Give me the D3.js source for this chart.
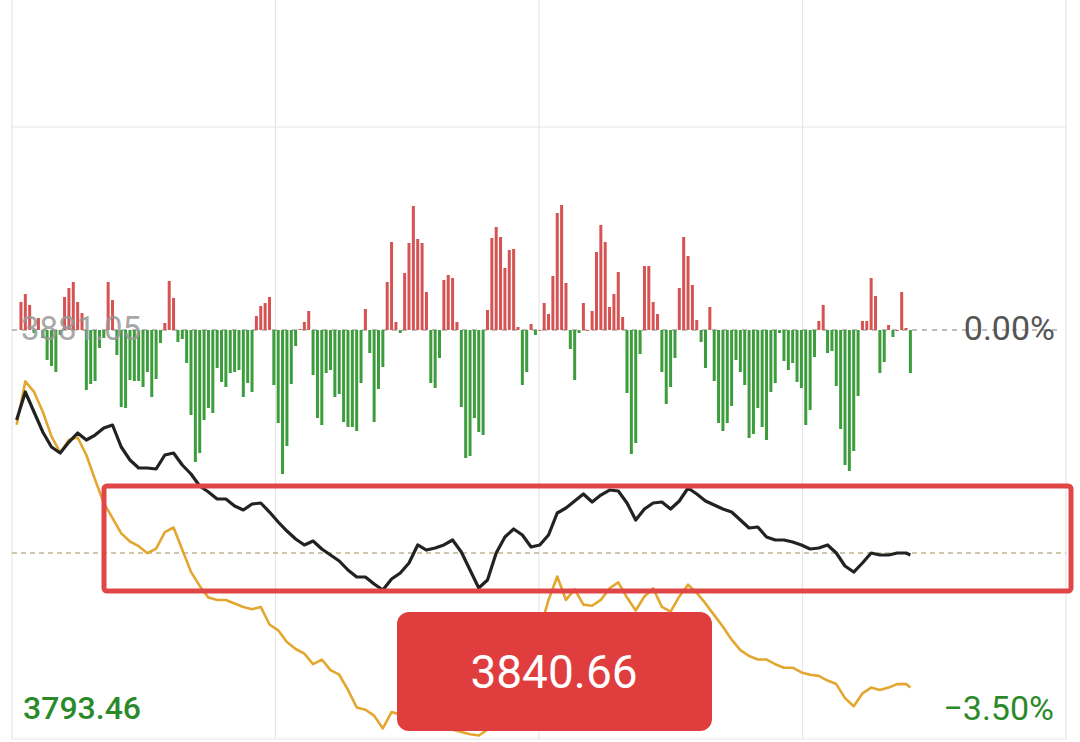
<!DOCTYPE html>
<html>
<head>
<meta charset="utf-8">
<script src="https://cdn.jsdelivr.net/npm/d3@7/dist/d3.min.js"></script>
<style>
html,body{margin:0;padding:0;background:#fff;}
svg{display:block;font-family:Roboto,"Noto Sans",sans-serif;}
</style>
</head>
<body>
<svg id="chart" width="1080" height="742"></svg>
<script>
// ---- data ----
const prevClose = 3881.05;
const lowPrice = 3793.46;
const currentPrice = 3840.66;
const pctTop = "0.00%";
const pctBottom = "\u22123.50%";

// per-minute net flow bars (minute 1..205)
const flowBars = [28,36,25,-3,12,-8,-30,-36,-42,-5,33,42,48,28,17,-60,-54,-51,-18,-8,
48,30,-25,-77,-78,-50,-51,-51,-57,-42,-67,-49,-13,7,49,32,-12,-9,-33,-85,
-132,-123,-90,-78,-83,-38,-52,-57,-43,-42,-40,-67,-53,-62,14,24,27,33,-55,-93,
-144,-116,-54,-16,1,8,19,-45,-88,-95,-43,-40,-67,-64,-92,-97,-97,-101,-53,21,
-23,-92,-59,-37,48,88,8,-3,57,87,124,91,87,38,-53,-58,-28,50,55,52,
8,-77,-128,-126,-88,-102,-105,20,92,103,93,62,80,81,3,-55,-42,6,-5,0,
27,16,54,117,125,47,-19,-50,-3,27,0,19,78,105,88,23,36,58,13,-63,
-124,-113,-24,64,64,28,16,-42,-74,-57,-28,42,93,74,45,10,-12,-38,23,-51,
-93,-101,-93,-76,-30,-42,-55,-108,-104,-78,-97,-110,-62,-53,-3,-31,-40,-33,-52,-58,
-95,-80,-27,9,25,-23,-21,-56,-99,-135,-141,-121,-66,9,9,52,34,-43,-32,5,
-7,0,38,2,-43];

// minutes at which the two lines were read
const lineMinutes = [0,2,4,6,8,10,12,14,16,18,20,22,24,26,28,30,32,34,36,38,40,42,44,46,48,50,52,54,56,58,
60,62,64,66,68,70,72,74,76,78,80,82,84,86,88,90,92,94,96,98,100,102,104,106,108,110,112,114,116,118,
120,122,124,126,128,130,132,134,136,138,140,142,144,146,148,150,152,154,156,158,160,162,164,166,168,170,172,174,176,178,
180,182,184,186,188,190,192,194,196,198,200,202,204,205];

// index price (black line)
const indexPrice = [3861.78,3867.77,3863.49,3859.21,3855.99,3854.71,3857.06,3858.99,3857.49,3858.56,
3860.06,3860.70,3855.99,3853.21,3851.50,3851.50,3851.28,3854.28,3854.71,3852.14,
3850.21,3847.64,3846.36,3844.86,3844.86,3843.36,3842.50,3843.79,3844.00,3842.07,
3839.93,3838.00,3836.29,3835.01,3835.86,3834.15,3832.86,3831.58,3829.65,3828.15,
3828.15,3826.65,3825.37,3827.72,3829.01,3831.15,3835.01,3833.93,3834.36,3835.01,
3836.08,3833.51,3829.65,3825.80,3827.51,3833.29,3836.72,3838.43,3837.15,3834.58,
3835.01,3837.15,3841.86,3842.93,3844.43,3845.93,3844.21,3845.71,3846.78,3846.57,
3844.00,3840.36,3842.71,3844.00,3844.21,3842.71,3844.43,3847.21,3845.93,3844.43,
3843.57,3842.71,3842.07,3840.36,3838.65,3838.86,3836.72,3836.08,3836.08,3835.65,
3835.01,3834.15,3834.36,3835.01,3833.29,3830.51,3829.22,3831.15,3833.29,3832.86,
3832.86,3833.29,3833.29,3832.86];

// comparison index, % change (orange line)
const comparePct = [-0.81,-0.44,-0.53,-0.70,-0.91,-1.05,-0.94,-0.92,-1.07,-1.28,
-1.48,-1.61,-1.74,-1.81,-1.85,-1.91,-1.87,-1.73,-1.69,-1.88,
-2.07,-2.19,-2.29,-2.31,-2.31,-2.34,-2.37,-2.39,-2.37,-2.52,
-2.57,-2.67,-2.73,-2.77,-2.86,-2.82,-2.91,-2.95,-3.08,-3.23,
-3.25,-3.30,-3.41,-3.27,-3.29,-3.32,-3.35,-3.37,-3.40,-3.41,
-3.42,-3.44,-3.46,-3.47,-3.42,-3.35,-3.23,-3.10,-2.93,-2.74,
-2.57,-2.31,-2.11,-2.31,-2.22,-2.35,-2.36,-2.31,-2.21,-2.16,
-2.29,-2.40,-2.28,-2.21,-2.37,-2.41,-2.28,-2.18,-2.25,-2.34,
-2.44,-2.54,-2.65,-2.74,-2.79,-2.82,-2.82,-2.86,-2.89,-2.89,
-2.93,-2.95,-2.96,-3.00,-3.03,-3.15,-3.22,-3.11,-3.06,-3.08,
-3.06,-3.03,-3.03,-3.06];

// ---- drawing ----
const svg = d3.select("#chart");
const W = 1080, H = 742;
const frame = {left: 12, right: 1066, top: 0, bottom: 739};

svg.append("rect").attr("width", W).attr("height", H).attr("fill", "#fff");

// scales
const x = d3.scaleLinear().domain([0, 241]).range([16.6, 16.6 + 4.36 * 241]);
const gridX = d3.scaleLinear().domain([0, 4]).range([frame.left, frame.right]);
const yPrice = d3.scaleLinear().domain([lowPrice, prevClose]).range([739, 330]);
const yPct = d3.scaleLinear().domain([-3.5, 0]).range([739, 330]);
const yFlow = d3.scaleLinear().domain([-150, 150]).range([480, 180]);

// grid
const grid = svg.append("g").attr("stroke", "#e6e6e6").attr("stroke-width", 1.2);
grid.selectAll("line.v").data(d3.range(0, 5)).join("line")
  .attr("x1", d => gridX(d)).attr("x2", d => gridX(d))
  .attr("y1", 0).attr("y2", frame.bottom);
grid.append("line").attr("x1", frame.left).attr("x2", frame.right).attr("y1", 127).attr("y2", 127);
grid.append("line").attr("x1", frame.left).attr("x2", frame.right).attr("y1", frame.bottom).attr("y2", frame.bottom);

// zero dashed line
svg.append("line")
  .attr("x1", frame.left).attr("x2", 1060)
  .attr("y1", yFlow(0)).attr("y2", yFlow(0))
  .attr("stroke", "#a8a8a8").attr("stroke-width", 1.5).attr("stroke-dasharray", "5,5");

// current-price dashed line
svg.append("line")
  .attr("x1", frame.left).attr("x2", frame.right)
  .attr("y1", 553).attr("y2", 553)
  .attr("stroke", "#bdb48c").attr("stroke-width", 1.3).attr("stroke-dasharray", "5,4");

// bars
svg.append("g").selectAll("rect").data(flowBars).join("rect")
  .attr("x", (d, i) => x(i + 1) - 1.5)
  .attr("width", 3)
  .attr("y", d => d >= 0 ? yFlow(d) : yFlow(0))
  .attr("height", d => Math.max(1, Math.abs(yFlow(d) - yFlow(0))))
  .attr("fill", d => d >= 0 ? "#d65353" : "#3d9d3d");

// left top label, drawn over the bars
svg.append("text").attr("x", 21).attr("y", 340)
  .attr("font-size", 33).attr("fill", "#999").attr("opacity", 0.85)
  .text(prevClose.toFixed(2));

// orange line
const lineO = d3.line().x((d, i) => x(lineMinutes[i])).y(d => yPct(d)).curve(d3.curveLinear);
svg.append("path").datum(comparePct).attr("d", lineO)
  .attr("fill", "none").attr("stroke", "#e3a72f").attr("stroke-width", 2.6)
  .attr("stroke-linejoin", "round");

// black line
const lineB = d3.line().x((d, i) => x(lineMinutes[i])).y(d => yPrice(d)).curve(d3.curveLinear);
svg.append("path").datum(indexPrice).attr("d", lineB)
  .attr("fill", "none").attr("stroke", "#222").attr("stroke-width", 3.2)
  .attr("stroke-linejoin", "round");

// red highlight rectangle
svg.append("rect").attr("x", 104).attr("y", 486).attr("width", 967).attr("height", 105)
  .attr("rx", 3).attr("fill", "none").attr("stroke", "#e04646").attr("stroke-width", 5);

// right labels
svg.append("text").attr("x", 1055).attr("y", 340).attr("text-anchor", "end")
  .attr("font-size", 34).attr("fill", "#555").text(pctTop);
svg.append("text").attr("x", 23).attr("y", 719)
  .attr("font-size", 32).attr("font-weight", 500).attr("fill", "#2a8a2a").text(lowPrice.toFixed(2));
svg.append("text").attr("x", 1054).attr("y", 720).attr("text-anchor", "end")
  .attr("font-size", 34).attr("fill", "#2a8a2a").text(pctBottom);

// current price badge
svg.append("rect").attr("x", 397).attr("y", 612).attr("width", 315).attr("height", 119)
  .attr("rx", 12).attr("fill", "#e03e3e");
svg.append("text").attr("x", 554).attr("y", 688).attr("text-anchor", "middle")
  .attr("font-size", 46).attr("fill", "#fff").text(currentPrice.toFixed(2));
</script>
</body>
</html>
